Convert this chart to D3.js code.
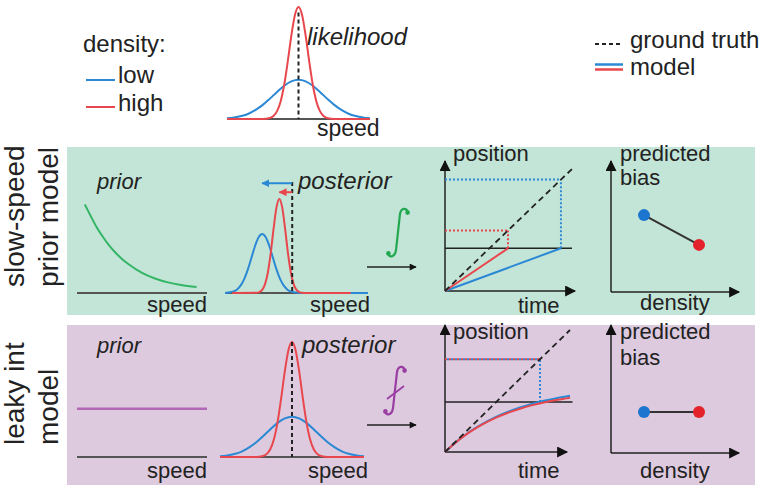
<!DOCTYPE html>
<html><head><meta charset="utf-8">
<script src="https://cdn.jsdelivr.net/npm/d3@7"></script>
<style>
body{margin:0;background:#fff}
text{font-family:"Liberation Sans",Arial,Helvetica,sans-serif;fill:#222}
</style>
</head><body><svg id="c" width="760" height="488"></svg>
<script>
// ---------------- data ----------------
const densityLevels = ["low", "high"];
const legendLabels = ["ground truth", "model"];
const rowLabels = [["slow-speed", "prior model"], ["leaky int", "model"]];
// likelihood (speed 0..10, density)
const likelihoodLow = [[0,0.006],[0.5,0.013],[1,0.026],[1.5,0.047],[2,0.081],[2.5,0.126],[3,0.182],[3.5,0.242],[4,0.297],[4.5,0.336],[5,0.35],[5.5,0.336],[6,0.297],[6.5,0.242],[7,0.182],[7.5,0.126],[8,0.081],[8.5,0.047],[9,0.026],[9.5,0.013],[10,0.006]];
const likelihoodHigh = [[0,0],[2.5,0],[3,0.009],[3.25,0.027],[3.5,0.07],[3.75,0.157],[4,0.306],[4.25,0.514],[4.5,0.744],[4.75,0.929],[5,1],[5.25,0.929],[5.5,0.744],[5.75,0.514],[6,0.306],[6.25,0.157],[6.5,0.07],[6.75,0.027],[7,0.009],[7.5,0],[10,0]];
const truthSpeed = 5;
// slow-speed prior model
const slowPrior = [[0.6,0.79],[1,0.70],[1.5,0.59],[2,0.50],[2.5,0.42],[3,0.355],[3.5,0.30],[4,0.255],[5,0.18],[6,0.13],[7,0.095],[8,0.072],[9.2,0.054]];
const slowPostLow = [[0,0.001],[0.6,0.014],[0.85,0.032],[1.1,0.068],[1.35,0.126],[1.6,0.211],[1.85,0.315],[2.1,0.42],[2.35,0.498],[2.6,0.527],[2.85,0.498],[3.1,0.42],[3.35,0.315],[3.6,0.211],[3.85,0.126],[4.1,0.068],[4.35,0.032],[4.6,0.014],[5.1,0.002],[5.6,0],[10,0]];
const slowPostHigh = [[0.5,0],[2.2,0.002],[2.4,0.008],[2.6,0.028],[2.8,0.079],[3.0,0.185],[3.2,0.359],[3.4,0.576],[3.6,0.764],[3.8,0.84],[4.0,0.764],[4.2,0.576],[4.4,0.359],[4.6,0.185],[4.8,0.079],[5.0,0.028],[5.2,0.008],[5.4,0.002],[5.8,0],[8.8,0]];
const slowTruthSpeed = 4.7;
const slowPeak = {low: 2.6, high: 3.8};
const slowArrowLevel = {low: 0.98, high: 0.90};
const slowTarget = 0.35;              // position reached
const slowReachTime = {low: 0.913, high: 0.496};
const slowBias = [0.62, 0.38];
// leaky integrator model
const flatPrior = [[0,0.43],[10,0.43]];
const leakyLow = [[0,0],[0.1,0.091],[0.2,0.168],[0.3,0.231],[0.4,0.284],[0.5,0.328],[0.6,0.365],[0.7,0.396],[0.8,0.422],[0.9,0.443],[1.0,0.461]];
const leakyHigh = [[0,0],[0.1,0.09],[0.2,0.165],[0.3,0.227],[0.4,0.278],[0.5,0.32],[0.6,0.355],[0.7,0.384],[0.8,0.408],[0.9,0.428],[1.0,0.445]];
const leakyTarget = 0.41;
const leakyReachTime = 0.76;
const leakyBias = [0.33, 0.33];
const groundTruth = [[0,0],[1,1]];

// ---------------- drawing ----------------
const C = {blue:"#2b88d4", red:"#e8474d", green:"#33b565", purple:"#b266b6",
  bgG:"#c3e5d7", bgP:"#ddcadf", ax:"#222", gray:"#555",
  dotB:"#1c75cf", dotR:"#e3222c", intG:"#22a851", intP:"#9a3ea3"};
const svg = d3.select("#c");
const defs = svg.append("defs");
function marker(id, color, w, h){
  defs.append("marker").attr("id", id).attr("viewBox","0 0 10 10")
    .attr("refX",9).attr("refY",5).attr("markerUnits","userSpaceOnUse")
    .attr("markerWidth", w).attr("markerHeight", h).attr("orient","auto")
    .append("path").attr("d","M0,0L10,5L0,10z").attr("fill", color);
}
marker("ah","#111",12,11);
marker("ahs","#111",8,7);
marker("ahB",C.blue,8,8);
marker("ahR",C.red,8,8);

const lineOf = (xs, ys, curve) => d3.line().x(d=>xs(d[0])).y(d=>ys(d[1])).curve(curve || d3.curveMonotoneX);
function path(data, xs, ys, color, w, dash, curve){
  const p = svg.append("path").datum(data).attr("d", lineOf(xs, ys, curve)(data))
    .attr("fill","none").attr("stroke", color).attr("stroke-width", w)
    .attr("stroke-linejoin","round");
  if (dash) p.attr("stroke-dasharray", dash);
  return p;
}
function seg(x1,y1,x2,y2,color,w,dash,mk){
  const l = svg.append("line").attr("x1",x1).attr("y1",y1).attr("x2",x2).attr("y2",y2)
    .attr("stroke",color).attr("stroke-width",w);
  if (dash) l.attr("stroke-dasharray",dash);
  if (mk) l.attr("marker-end","url(#"+mk+")");
  return l;
}
function txt(x,y,s,opt){
  opt = opt || {};
  const t = svg.append("text").attr("x",x).attr("y",y).text(s)
    .attr("font-size", opt.size || 22);
  if (opt.italic) t.attr("font-style","italic");
  if (opt.anchor) t.attr("text-anchor", opt.anchor);
  return t;
}
// integral glyph drawn as a stroke with ball terminals
function integral(x, y, color, bar){
  const g = svg.append("g").attr("transform", `translate(${x},${y})`);
  g.append("path").attr("d","M9,3 C7,-2 2,-1 1,5 L-3,41 C-4,48 -9,49 -11,45")
    .attr("fill","none").attr("stroke",color).attr("stroke-width",2.2).attr("stroke-linecap","round");
  g.append("circle").attr("cx",8.6).attr("cy",3.6).attr("r",2.3).attr("fill",color);
  g.append("circle").attr("cx",-10.6).attr("cy",44.4).attr("r",2.3).attr("fill",color);
  if (bar) g.append("line").attr("x1",-9).attr("y1",32).attr("x2",8).attr("y2",19)
    .attr("stroke",color).attr("stroke-width",1.8);
}

// backgrounds
svg.append("rect").attr("x",67).attr("y",147).attr("width",688).attr("height",168).attr("fill",C.bgG);
svg.append("rect").attr("x",67).attr("y",325).attr("width",688).attr("height",160).attr("fill",C.bgP);

// row labels
[[287, rowLabels[0]], [445, rowLabels[1]]].forEach(([y0, labs]) => {
  labs.forEach((s, i) => {
    svg.append("text").attr("transform", `translate(${i ? 58 : 24},${y0}) rotate(-90)`)
      .attr("font-size", 28).text(s);
  });
});

// ---- top: legend + likelihood ----
txt(83, 52, "density:", {size:24});
seg(86, 80, 115, 80, C.blue, 2);
txt(118, 83, densityLevels[0], {size:24});
seg(86, 107, 115, 107, C.red, 2);
txt(118, 111, densityLevels[1], {size:24});

seg(595, 44, 623, 44, "#222", 2, "4,3");
txt(630, 48, legendLabels[0], {size:24});
seg(595, 64.5, 623, 64.5, C.blue, 2.5);
seg(595, 69.5, 623, 69.5, C.red, 2.5);
txt(630, 75, legendLabels[1], {size:24});

{
  const xs = d3.scaleLinear([0,10],[227,370]), ys = d3.scaleLinear([0,1],[119,7]);
  seg(xs(0), ys(0), xs(10), ys(0), C.gray, 2);
  path(likelihoodLow, xs, ys, C.blue, 2);
  path(likelihoodHigh, xs, ys, C.red, 2);
  seg(xs(truthSpeed), ys(0.95), xs(truthSpeed), ys(0), "#222", 2, "4,3");
  txt(307, 45, "likelihood", {italic:true, size:24});
  txt(317, 136, "speed", {size:23});
}

// ---- slow-speed prior model ----
{
  const xs = d3.scaleLinear([0,10],[77,207]), ys = d3.scaleLinear([0,1],[293,181]);
  seg(xs(0), ys(0), xs(10), ys(0), C.gray, 2);
  path(slowPrior, xs, ys, C.green, 2);
  txt(97, 189, "prior", {italic:true});
  txt(xs(10), 312, "speed", {anchor:"end"});
}
{
  const xs = d3.scaleLinear([0,10],[225,368]), ys = d3.scaleLinear([0,1],[293,181]);
  seg(xs(0), ys(0), xs(10), ys(0), C.gray, 2);
  path(slowPostLow, xs, ys, C.blue, 2);
  path(slowPostHigh, xs, ys, C.red, 2);
  seg(xs(slowTruthSpeed), ys(0.99), xs(slowTruthSpeed), ys(0), "#222", 2, "4,3");
  seg(xs(slowTruthSpeed), ys(slowArrowLevel.low), xs(slowPeak.low), ys(slowArrowLevel.low), C.blue, 2, null, "ahB");
  seg(xs(slowTruthSpeed), ys(slowArrowLevel.high), xs(slowPeak.high), ys(slowArrowLevel.high), C.red, 2, null, "ahR");
  txt(298, 189, "posterior", {italic:true, size:24});
  txt(xs(10)+2, 312, "speed", {anchor:"end"});
}
// integral + arrow
integral(399, 209, C.intG, false);
seg(367, 267, 416, 267, "#222", 1.3, null, "ahs");
// position plot
function posPlot(x0, x1, y0, y1, xTip, yTip){
  const xt = d3.scaleLinear([0,1],[x0,x1]), yp = d3.scaleLinear([0,1],[y0,y1]);
  seg(xt(0), yp(0), xt(0), yTip, C.ax, 1.5, null, "ah");
  seg(xt(0), yp(0), xTip, yp(0), C.ax, 1.5, null, "ah");
  return [xt, yp];
}
{
  const [xt, yp] = posPlot(445, 572, 291, 169, 575, 161);
  seg(xt(0), yp(slowTarget), xt(1), yp(slowTarget), C.ax, 1.5);
  // dotted projections
  seg(xt(slowReachTime.low), yp(slowTarget), xt(slowReachTime.low), yp(slowReachTime.low), C.blue, 2, "2,2");
  seg(xt(0), yp(slowReachTime.low), xt(slowReachTime.low), yp(slowReachTime.low), C.blue, 2, "2,2");
  seg(xt(slowReachTime.high), yp(slowTarget), xt(slowReachTime.high), yp(slowReachTime.high), C.red, 2, "2,2");
  seg(xt(0), yp(slowReachTime.high), xt(slowReachTime.high), yp(slowReachTime.high), C.red, 2, "2,2");
  path([[0,0],[slowReachTime.low, slowTarget]], xt, yp, C.blue, 2, null, d3.curveLinear);
  path([[0,0],[slowReachTime.high, slowTarget]], xt, yp, C.red, 2, null, d3.curveLinear);
  path(groundTruth, xt, yp, "#222", 1.8, "6,4", d3.curveLinear);
  txt(453, 161, "position");
  txt(518, 313, "time");
}
// bias plot
function biasPlot(oy, yTop, vals){
  const xb = d3.scalePoint(densityLevels, [644, 699]), yb = d3.scaleLinear([0,1],[oy, oy-124]);
  seg(611, oy, 611, yTop, C.ax, 1.5, null, "ah");
  seg(611, oy, 739, oy, C.ax, 1.5, null, "ah");
  seg(xb("low"), yb(vals[0]), xb("high"), yb(vals[1]), "#333", 2);
  svg.append("circle").attr("cx", xb("low")).attr("cy", yb(vals[0])).attr("r",6).attr("fill",C.dotB);
  svg.append("circle").attr("cx", xb("high")).attr("cy", yb(vals[1])).attr("r",6).attr("fill",C.dotR);
}
biasPlot(292, 161, slowBias);
txt(620, 161, "predicted");
txt(620, 185, "bias");
txt(640, 310, "density");

// ---- leaky int model ----
{
  const xs = d3.scaleLinear([0,10],[77,207]), ys = d3.scaleLinear([0,1],[457,345]);
  seg(xs(0), ys(0), xs(10), ys(0), C.gray, 2);
  path(flatPrior, xs, ys, C.purple, 2.5, null, d3.curveLinear);
  txt(97, 353, "prior", {italic:true});
  txt(xs(10), 478, "speed", {anchor:"end"});
}
{
  const xs = d3.scaleLinear([0,10],[220,364]), ys = d3.scaleLinear([0,1],[457,342]);
  seg(xs(0), ys(0), xs(10), ys(0), C.gray, 2);
  path(likelihoodLow, xs, ys, C.blue, 2);
  path(likelihoodHigh, xs, ys, C.red, 2);
  seg(xs(truthSpeed), ys(1), xs(truthSpeed), ys(0), "#222", 2, "4,3");
  txt(302, 353, "posterior", {italic:true, size:24});
  txt(xs(10)+4, 478, "speed", {anchor:"end"});
}
integral(396, 367, C.intP, true);
seg(367, 425, 416, 425, "#222", 1.3, null, "ahs");
{
  const [xt, yp] = posPlot(445, 570, 452, 330, 567, 325);
  seg(xt(0), yp(leakyTarget), xt(1.02), yp(leakyTarget), C.ax, 1.5);
  seg(xt(leakyReachTime), yp(leakyTarget), xt(leakyReachTime), yp(leakyReachTime), C.blue, 2, "2,2");
  seg(xt(0), yp(leakyReachTime), xt(leakyReachTime), yp(leakyReachTime), C.red, 2, "2,2");
  seg(xt(0)+2, yp(leakyReachTime), xt(leakyReachTime), yp(leakyReachTime), C.blue, 2, "2,2");
  path(leakyLow, xt, yp, C.blue, 2, null, d3.curveMonotoneX);
  path(leakyHigh, xt, yp, C.red, 2, null, d3.curveMonotoneX);
  path(groundTruth, xt, yp, "#222", 1.8, "6,4", d3.curveLinear);
  txt(453, 339, "position");
  txt(518, 478, "time");
}
biasPlot(453, 325, leakyBias);
txt(620, 339, "predicted");
txt(620, 365, "bias");
txt(640, 478, "density");
</script>
</body></html>
